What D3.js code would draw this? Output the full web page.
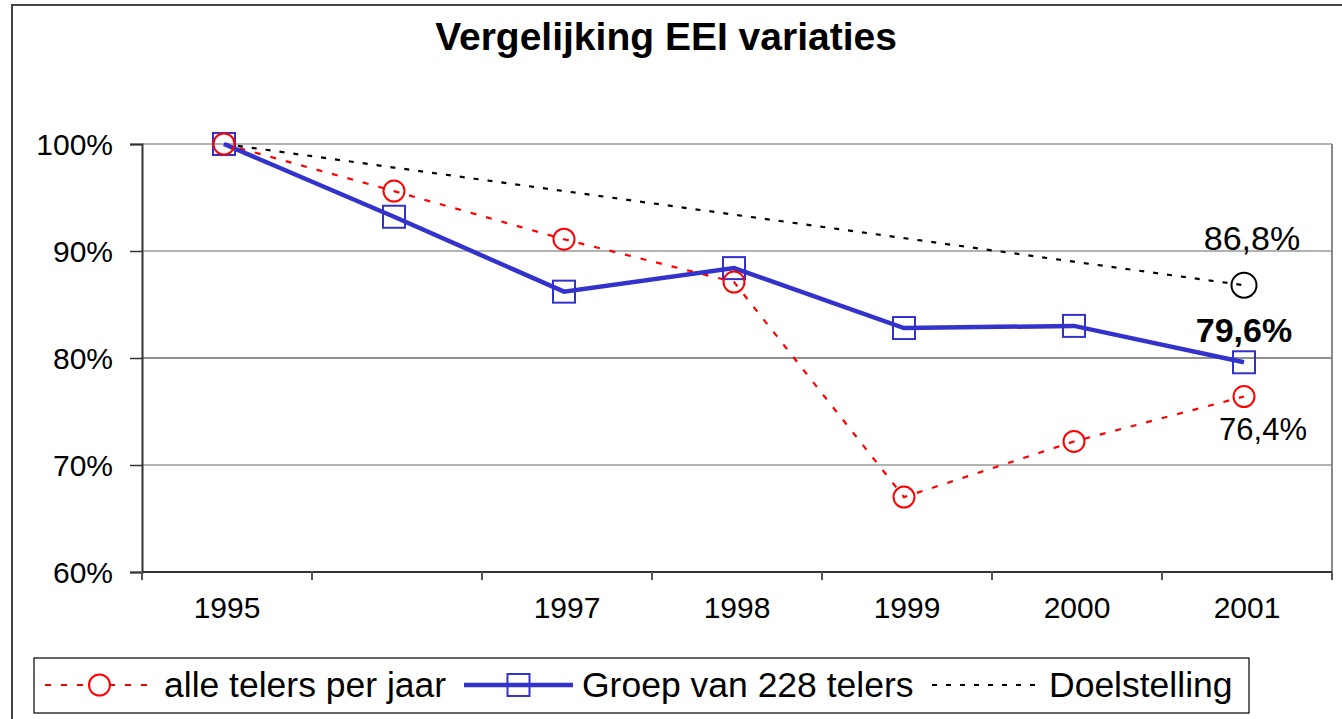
<!DOCTYPE html>
<html>
<head>
<meta charset="utf-8">
<script src="https://cdn.jsdelivr.net/npm/d3@7"></script>
<style>
	body { margin: 0; background: #fff; }
	text { font-family: "Liberation Sans", Arial, sans-serif; fill: #000; }
</style>
</head>
<body>
<div id="chart"></div>
<script>
const years = ['1995', '1996', '1997', '1998', '1999', '2000', '2001']
const yearLabels = ['1995', '', '1997', '1998', '1999', '2000', '2001']
const alleTelers = [100, 95.6, 91.1, 87.1, 67.0, 72.2, 76.4]
const groep228 = [100, 93.2, 86.2, 88.4, 82.8, 83.0, 79.6]
const doelstelling = [100, 97.8, 95.6, 93.4, 91.2, 89.0, 86.8]
const yTicks = [60, 70, 80, 90, 100]
const seriesNames = ['alle telers per jaar', 'Groep van 228 telers', 'Doelstelling']

const width = 1342
const height = 719

const svg =
	d3.select('#chart')
		.append('svg')
		.attr('width', width)
		.attr('height', height)

// outer frame
svg.append('path')
	.attr('d', `M12,${height} L12,5 L${width},5`)
	.attr('fill', 'none')
	.attr('stroke', '#444')
	.attr('stroke-width', 2)

svg.append('text')
	.attr('x', 666)
	.attr('y', 50)
	.attr('text-anchor', 'middle')
	.style('font-size', '39px')
	.style('font-weight', 'bold')
	.text('Vergelijking EEI variaties')

const x = d3.scaleBand()
	.domain(years)
	.range([142, 1332])

const y = d3.scaleLinear()
	.domain([60, 100])
	.range([572, 144])

const px = d => x(d) + x.bandwidth() / 2 - 3

// gridlines
svg.append('g')
	.selectAll('line')
	.data(yTicks.slice(1))
	.enter()
	.append('line')
	.attr('x1', 142)
	.attr('x2', 1332)
	.attr('y1', d => y(d))
	.attr('y2', d => y(d))
	.attr('stroke', d => d === 80 ? '#222' : '#666')
	.attr('stroke-width', 1.2)

svg.append('line')
	.attr('x1', 1332)
	.attr('x2', 1332)
	.attr('y1', y(100))
	.attr('y2', y(60))
	.attr('stroke', '#888')
	.attr('stroke-width', 2)

// y axis
const yAxis = svg.append('g')
	.attr('transform', 'translate(142,0)')
	.call(d3.axisLeft(y).tickValues(yTicks).tickSize(12).tickPadding(17).tickFormat(d => d + '%'))

yAxis.select('.domain').attr('stroke', '#333').attr('stroke-width', 2)
yAxis.selectAll('.tick line').attr('stroke', '#333').attr('stroke-width', 1.5)
yAxis.selectAll('.tick text')
	.attr('dy', '0.36em')
	.style('font-size', '30px')
	.style('font-family', '"Liberation Sans", Arial, sans-serif')
	.attr('fill', '#000')

// x axis, ticks between categories
const xAxis = svg.append('g')
	.attr('transform', `translate(0,${y(60)})`)

xAxis.append('line')
	.attr('x1', 142)
	.attr('x2', 1332)
	.attr('stroke', '#333')
	.attr('stroke-width', 2)

xAxis.selectAll('line.tick')
	.data(years.concat(['end']))
	.enter()
	.append('line')
	.attr('class', 'tick')
	.attr('x1', (d, i) => i < years.length ? x(d) : x.range()[1])
	.attr('x2', (d, i) => i < years.length ? x(d) : x.range()[1])
	.attr('y1', 0)
	.attr('y2', 8)
	.attr('stroke', '#555')
	.attr('stroke-width', 2)

xAxis.selectAll('text')
	.data(years)
	.enter()
	.append('text')
	.attr('x', d => x(d) + x.bandwidth() / 2)
	.attr('y', 46)
	.attr('text-anchor', 'middle')
	.style('font-size', '30px')
	.text((d, i) => yearLabels[i])

const line = d3.line()
	.x((d, i) => px(years[i]))
	.y(d => y(d))

// series lines
svg.append('path')
	.datum(doelstelling)
	.attr('d', line)
	.attr('fill', 'none')
	.attr('stroke', '#000')
	.attr('stroke-width', 2.2)
	.attr('stroke-dasharray', '5,9')

svg.append('path')
	.datum(alleTelers)
	.attr('d', line)
	.attr('fill', 'none')
	.attr('stroke', '#ff0000')
	.attr('stroke-width', 2.2)
	.attr('stroke-dasharray', '6,10')

svg.append('path')
	.datum(groep228)
	.attr('d', line)
	.attr('fill', 'none')
	.attr('stroke', '#3333cc')
	.attr('stroke-width', 4.5)

// markers
svg.append('g')
	.selectAll('rect')
	.data(groep228)
	.enter()
	.append('rect')
	.attr('x', (d, i) => px(years[i]) - 11)
	.attr('y', d => y(d) - 11)
	.attr('width', 22)
	.attr('height', 22)
	.attr('fill', 'none')
	.attr('stroke', '#3333cc')
	.attr('stroke-width', 2)

svg.append('g')
	.selectAll('circle')
	.data(alleTelers)
	.enter()
	.append('circle')
	.attr('cx', (d, i) => px(years[i]))
	.attr('cy', d => y(d))
	.attr('r', 10.5)
	.attr('fill', 'none')
	.attr('stroke', '#ff0000')
	.attr('stroke-width', 2)

const last = years.length - 1

svg.append('circle')
	.attr('cx', px(years[last]))
	.attr('cy', y(doelstelling[last]))
	.attr('r', 12.5)
	.attr('fill', 'none')
	.attr('stroke', '#000')
	.attr('stroke-width', 2)

// data labels
const fmt = v => v.toFixed(1).replace('.', ',') + '%'

svg.append('text')
	.attr('x', px(years[last]) + 8)
	.attr('y', y(doelstelling[last]) - 35)
	.attr('text-anchor', 'middle')
	.style('font-size', '34px')
	.text(fmt(doelstelling[last]))

svg.append('text')
	.attr('x', px(years[last]))
	.attr('y', y(groep228[last]) - 20)
	.attr('text-anchor', 'middle')
	.style('font-size', '34px')
	.style('font-weight', 'bold')
	.text(fmt(groep228[last]))

svg.append('text')
	.attr('x', px(years[last]) + 19)
	.attr('y', y(alleTelers[last]) + 43)
	.attr('text-anchor', 'middle')
	.style('font-size', '31px')
	.text(fmt(alleTelers[last]))

// 
// Legend
// 
const legend = svg.append('g')

legend.append('rect')
	.attr('x', 34)
	.attr('y', 658)
	.attr('width', 1215)
	.attr('height', 55)
	.attr('fill', '#fff')
	.attr('stroke', '#000')
	.attr('stroke-width', 1.2)

const legendItems = [
	{ name: seriesNames[0], x0: 45, x1: 154, tx: 164, color: '#ff0000', dash: '6,10', w: 2.2, mark: 'circle' },
	{ name: seriesNames[1], x0: 464, x1: 573, tx: 582, color: '#3333cc', dash: null, w: 4.5, mark: 'rect' },
	{ name: seriesNames[2], x0: 932, x1: 1043, tx: 1049, color: '#000', dash: '5,9', w: 2.2, mark: null }
]

const items = legend.selectAll('g.item')
	.data(legendItems)
	.enter()
	.append('g')
	.attr('class', 'item')

items.append('line')
	.attr('x1', d => d.x0)
	.attr('x2', d => d.x1)
	.attr('y1', 685)
	.attr('y2', 685)
	.attr('stroke', d => d.color)
	.attr('stroke-width', d => d.w)
	.attr('stroke-dasharray', d => d.dash)

items.filter(d => d.mark === 'circle')
	.append('circle')
	.attr('cx', d => (d.x0 + d.x1) / 2)
	.attr('cy', 685)
	.attr('r', 10.5)
	.attr('fill', '#fff')
	.attr('stroke', d => d.color)
	.attr('stroke-width', 2)

items.filter(d => d.mark === 'rect')
	.append('rect')
	.attr('x', d => (d.x0 + d.x1) / 2 - 11)
	.attr('y', 674)
	.attr('width', 22)
	.attr('height', 22)
	.attr('fill', 'none')
	.attr('stroke', d => d.color)
	.attr('stroke-width', 2)

items.append('text')
	.attr('x', d => d.tx)
	.attr('y', 697)
	.style('font-size', '35.5px')
	.text(d => d.name)
</script>
</body>
</html>
